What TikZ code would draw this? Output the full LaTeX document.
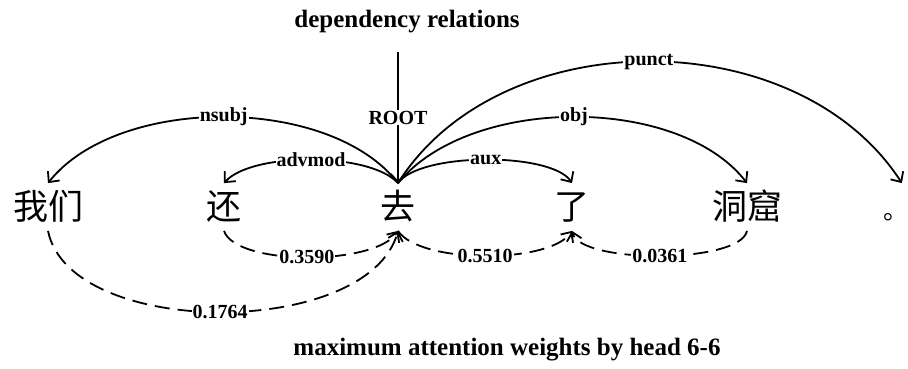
\documentclass[tikz,border=0pt]{standalone}
\usepackage{fontspec}
\setmainfont{Liberation Serif}
\newfontfamily\cjk{Noto Sans CJK SC}
\usetikzlibrary{arrows.meta}

\begin{document}
\begin{tikzpicture}[x=1pt, y=-1pt, line width=1.8pt,
  word/.style={font=\cjk\fontsize{35}{35}\selectfont, inner sep=0pt, text height=30pt, text depth=5pt, minimum height=46pt},
  lbl/.style={font=\bfseries\fontsize{20}{20}\selectfont, fill=white, inner sep=1pt},
  rel/.style={-{Straight Barb[length=8pt,width=15pt]}},
  att/.style={rel, dash pattern=on 15pt off 8pt}]

\useasboundingbox (0,0) rectangle (908,368);

\path (407,22) node[font=\bfseries\fontsize{25}{25}\selectfont] (title) {dependency relations};
\path (507,350) node[font=\bfseries\fontsize{25}{25}\selectfont] (caption) {maximum attention weights by head 6-6};

\path (48,207) node[word] (women) {我们};
\path (224,207) node[word] (hai) {还};
\path (398,207) node[word] (qu) {去};
\path (572,207) node[word] (le) {了};
\path (747,207) node[word] (dongku) {洞窟};
\path (892,207) node[word] (juhao) {\fontsize{25}{25}\selectfont\makebox[18pt][l]{。}};

\coordinate (root) at (398,52);

\draw[rel] (root) -- node[lbl] {ROOT} (qu.north);
\draw[rel] (qu.north) .. controls (330,95) and (118,95) .. node[lbl] {nsubj} (women.north);
\draw[rel] (qu.north) .. controls (370,152) and (252,152) .. node[lbl] {advmod} (hai.north);
\draw[rel] (qu.north) .. controls (420,152) and (552,152) .. node[lbl] {aux} (le.north);
\draw[rel] (qu.north) .. controls (470,95) and (679,95) .. node[lbl] {obj} (dongku.north);
\draw[rel] (qu.north) .. controls (500,21) and (797,21) .. node[lbl] {punct} (juhao.north east);

\draw[att] (women.south) .. controls (70,339) and (368,339) .. node[lbl] {0.1764} (qu.south);
\draw[att] (hai.south) .. controls (236,266) and (375,266) .. node[lbl] {0.3590} (qu.south);
\draw[att] (qu.south) .. controls (420,264) and (550,264) .. node[lbl] {0.5510} (le.south);
\draw[att] (dongku.south) .. controls (740,264) and (580,264) .. node[lbl] {0.0361} (le.south);
\end{tikzpicture}
\end{document}
